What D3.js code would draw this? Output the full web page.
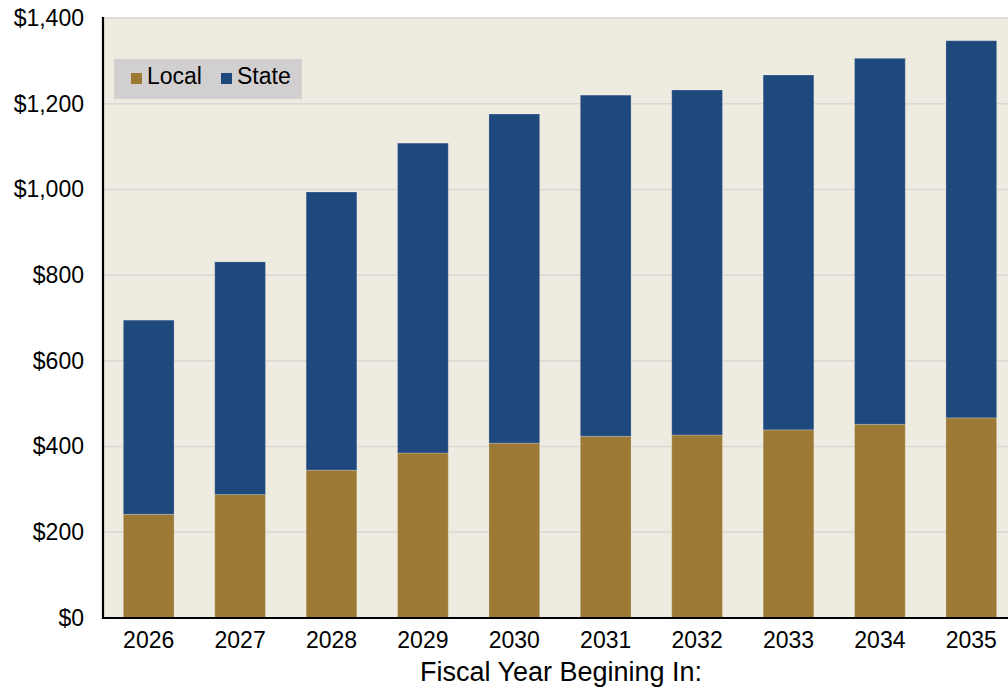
<!DOCTYPE html>
<html>
<head>
<meta charset="utf-8">
<script src="https://cdn.jsdelivr.net/npm/d3@7"></script>
<style>
  html, body { margin: 0; padding: 0; background: #ffffff; }
  svg { display: block; font-family: "Liberation Sans", Arial, Helvetica, sans-serif; }
</style>
</head>
<body>
<svg id="chart" width="1008" height="689"></svg>
<script>
// Fiscal years and component costs (dollars)
const years = ["2026", "2027", "2028", "2029", "2030", "2031", "2032", "2033", "2034", "2035"];
const localValues = [242, 288, 345, 385, 408, 424, 427, 439, 452, 467];
const totalValues = [695, 831, 994, 1108, 1176, 1220, 1232, 1267, 1306, 1347];
const stateValues = totalValues.map((t, i) => t - localValues[i]);
const seriesNames = ["Local", "State"];
const yTicks = [0, 200, 400, 600, 800, 1000, 1200, 1400];

const colors = { Local: "#9C7A36", State: "#1F497D" };

const svg = d3.select("#chart");
const plotLeft = 103, plotTop = 18, plotBottom = 618, plotRight = 1017;

const x = d3.scaleBand()
  .domain(years)
  .range([plotLeft, plotRight])
  .paddingInner(0.445)
  .paddingOuter(0.2225);

const y = d3.scaleLinear().domain([0, 1400]).range([plotBottom, plotTop]);

// plot background
svg.append("rect")
  .attr("x", plotLeft).attr("y", plotTop - 1)
  .attr("width", 1008 - plotLeft).attr("height", plotBottom - plotTop + 1)
  .attr("fill", "#EEEBE0");

// horizontal gridlines
svg.append("g")
  .selectAll("line")
  .data(yTicks.filter(d => d > 0))
  .join("line")
  .attr("x1", plotLeft).attr("x2", 1008)
  .attr("y1", d => y(d)).attr("y2", d => y(d))
  .attr("stroke", "#D9D8D6")
  .attr("stroke-width", 1.5);

// stacked bars
const rows = years.map((yr, i) => ({ year: yr, Local: localValues[i], State: stateValues[i] }));
const stacked = d3.stack().keys(seriesNames)(rows);

svg.append("g")
  .selectAll("g")
  .data(stacked)
  .join("g")
  .attr("fill", d => colors[d.key])
  .selectAll("rect")
  .data(d => d)
  .join("rect")
  .attr("x", d => x(d.data.year))
  .attr("y", d => y(d[1]))
  .attr("width", x.bandwidth())
  .attr("height", d => y(d[0]) - y(d[1]))
  .attr("stroke", "rgba(255,255,255,0.22)")
  .attr("stroke-width", 1);

// y axis
const yAxis = d3.axisLeft(y)
  .tickValues(yTicks)
  .tickSize(0)
  .tickPadding(19)
  .tickFormat(d => "$" + d3.format(",")(d));

svg.append("g")
  .attr("transform", `translate(${plotLeft},0)`)
  .call(yAxis)
  .call(g => g.select(".domain").remove())
  .selectAll("text")
  .attr("font-size", 23)
  .attr("fill", "#000");

// x axis
const xAxis = d3.axisBottom(x).tickSize(0).tickPadding(14);
svg.append("g")
  .attr("transform", `translate(0,${plotBottom})`)
  .call(xAxis)
  .call(g => g.select(".domain").remove())
  .selectAll("text")
  .attr("font-size", 23)
  .attr("fill", "#000");

// axis lines
svg.append("line")
  .attr("x1", plotLeft).attr("x2", plotLeft)
  .attr("y1", plotTop - 1).attr("y2", plotBottom + 1)
  .attr("stroke", "#000").attr("stroke-width", 2.2);
svg.append("line")
  .attr("x1", plotLeft - 1).attr("x2", 1008)
  .attr("y1", plotBottom).attr("y2", plotBottom)
  .attr("stroke", "#000").attr("stroke-width", 2.2);

// x axis title
svg.append("text")
  .attr("x", 561)
  .attr("y", 681)
  .attr("text-anchor", "middle")
  .attr("font-size", 27)
  .attr("fill", "#000")
  .text("Fiscal Year Begining In:");

// legend
const legend = svg.append("g").attr("transform", "translate(114,59)");
legend.append("rect")
  .attr("width", 188).attr("height", 40)
  .attr("fill", "#D1CFD0");
const items = [
  { name: "Local", sx: 17, tx: 33 },
  { name: "State", sx: 107, tx: 123 }
];
items.forEach(it => {
  legend.append("rect")
    .attr("x", it.sx).attr("y", 14)
    .attr("width", 11).attr("height", 11)
    .attr("fill", colors[it.name]);
  legend.append("text")
    .attr("x", it.tx).attr("y", 25)
    .attr("font-size", 23)
    .attr("fill", "#000")
    .text(it.name);
});
</script>
</body>
</html>
